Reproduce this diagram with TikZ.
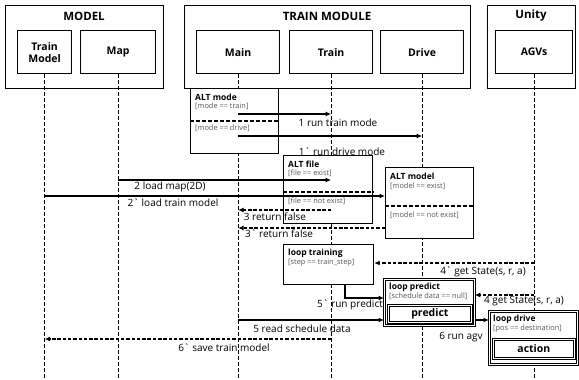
\documentclass[tikz,border=0pt]{standalone}
\usepackage{fontspec}
\newfontfamily\diafont{Open Sans}
\usetikzlibrary{arrows.meta,calc}
\begin{document}
\begin{tikzpicture}[x=1pt,y=-1pt,font=\diafont,
  box/.style={draw, line width=1.2pt, fill=white, inner sep=0pt},
  grp/.style={box, anchor=north west},
  part/.style={box, anchor=north west, align=center, font=\diafont\bfseries\fontsize{10.5}{12}\selectfont},
  gtitle/.style={font=\diafont\bfseries\fontsize{11.5}{13}\selectfont, inner sep=0pt},
  frag/.style={box, anchor=north west},
  dframe/.style={draw, line width=0.8pt, double, double distance=0.7pt, fill=white, inner sep=0pt, anchor=north west},
  ftitle/.style={font=\diafont\bfseries\fontsize{8.5}{9.5}\selectfont, anchor=west, inner sep=0pt},
  guard/.style={font=\diafont\fontsize{7.4}{8.5}\selectfont, text=black!65, anchor=west, inner sep=0pt},
  inbox/.style={dframe, font=\diafont\bfseries\fontsize{10.5}{11}\selectfont},
  lbl/.style={font=\diafont\fontsize{10}{11}\selectfont, inner sep=0pt},
  lifeline/.style={line width=1.1pt, dash pattern=on 4pt off 2pt},
  divider/.style={line width=1.3pt, dash pattern=on 4pt off 2pt},
  msg/.style={line width=1.1pt, -{Latex[length=5.5pt,width=5pt]}},
  ret/.style={msg, dash pattern=on 3.5pt off 1.8pt}
]
\useasboundingbox (0,0) rectangle (579,380);
\coordinate (bot) at (0,380);
% groups
\node[grp, minimum width=158pt, minimum height=83pt] (gModel) at (5,5) {};
\node[grp, minimum width=286pt, minimum height=83pt] (gTrain) at (184,5) {};
\node[grp, minimum width=88pt, minimum height=83pt] (gUnity) at (487,5) {};
\node[gtitle] (tModel) at (84,16) {MODEL};
\node[gtitle] (tTrain) at (327,16) {TRAIN MODULE};
\node[gtitle] (tUnity) at (531,16) {Unity};
% participants
\node[part, minimum width=54pt, minimum height=43pt] (tm) at (17,30) {Train\\Model};
\node[part, minimum width=75pt, minimum height=43pt] (map) at (80,30) {Map};
\node[part, minimum width=83pt, minimum height=43pt] (main) at (196,30) {Main};
\node[part, minimum width=83pt, minimum height=43pt] (train) at (289,30) {Train};
\node[part, minimum width=83pt, minimum height=43pt] (drive) at (380,30) {Drive};
\node[part, minimum width=77pt, minimum height=43pt] (agv) at (495,30) {AGVs};
% lifelines
\foreach \p in {tm,map,main,train,drive,agv}
  \draw[lifeline] (\p.south) -- (\p.south |- bot);
% fragments
\node[frag, minimum width=88pt, minimum height=65pt] (altmode) at (190,88) {};
\draw[divider] ($(altmode.north west)+(0,33)$) -- ($(altmode.north east)+(0,33)$);
\node[ftitle] (altmodeT) at (195,97) {ALT mode};
\node[guard] (altmodeG1) at (195,106) {[mode == train]};
\node[guard] (altmodeG2) at (195,128) {[mode == drive]};

\node[frag, minimum width=89pt, minimum height=68pt] (altfile) at (283,155) {};
\draw[divider] ($(altfile.north west)+(0,37)$) -- ($(altfile.north east)+(0,37)$);
\node[ftitle] (altfileT) at (288,164) {ALT file};
\node[guard] (altfileG1) at (288,173) {[file == exist]};
\node[guard] (altfileG2) at (288,201) {[file == not exist]};

\node[frag, minimum width=88pt, minimum height=71pt] (altmodel) at (385,167) {};
\draw[divider] ($(altmodel.north west)+(0,39)$) -- ($(altmodel.north east)+(0,39)$);
\node[ftitle] (altmodelT) at (390,176) {ALT model};
\node[guard] (altmodelG1) at (390,186) {[model == exist]};
\node[guard] (altmodelG2) at (390,215) {[model == not exist]};

\node[frag, minimum width=90pt, minimum height=40pt] (ltrain) at (283,244) {};
\node[ftitle] (ltrainT) at (288,253) {loop training};
\node[guard] (ltrainG) at (288,263) {[step == train\_step]};

\node[dframe, minimum width=90pt, minimum height=46pt] (lpred) at (384,279) {};
\node[ftitle] (lpredT) at (389,287) {loop predict};
\node[guard] (lpredG) at (389,296) {[schedule data == null]};
\node[inbox, minimum width=83pt, minimum height=17pt] (predict) at (388,305) {predict};

\node[dframe, minimum width=88pt, minimum height=53pt] (ldrive) at (489,311) {};
\node[ftitle] (ldriveT) at (493,319) {loop drive};
\node[guard] (ldriveG) at (493,329) {[pos == destination]};
\node[inbox, minimum width=81pt, minimum height=19pt] (action) at (493,339) {action};

% messages
\draw[msg] (main |- 0,114) -- (train |- 0,114);
\node[lbl] (m1) at (338,123) {1 run train mode};
\draw[msg] (main |- 0,136) -- (drive |- 0,136);
\node[lbl] (m1b) at (342,152) {1` run drive mode};
\draw[msg] (map |- 0,180) -- (train |- 0,180);
\node[lbl] (m2) at (170,187) {2 load map(2D)};
\draw[msg] (tm |- 0,196) -- (altmodel.west |- 0,196);
\node[lbl] (m2b) at (173,203) {2` load train model};
\draw[ret] (train |- 0,210) -- (main |- 0,210);
\node[lbl] (m3) at (275,217) {3 return false};
\draw[ret] (altmodel.west |- 0,228) -- (main |- 0,228);
\node[lbl] (m3b) at (279,234) {3` return false};
\draw[ret] (agv |- 0,263) -- (ltrain.east |- 0,263);
\node[lbl] (m4b) at (483,272) {4` get State(s, r, a)};
\draw[msg] ($(ltrain.south west)+(62,0)$) |- (lpred.west |- 0,298);
\node[lbl] (m5b) at (350,305) {5` run predict};
\draw[ret] (agv |- 0,295) -- (lpred.east |- 0,295);
\node[lbl] (m4) at (524,301) {4 get State(s, r, a)};
\draw[msg] (main |- 0,320) -- (lpred.west |- 0,320);
\node[lbl] (m5) at (302,329) {5 read schedule data};
\draw[msg] (lpred.east |- 0,320) -- (ldrive.west |- 0,320);
\node[lbl] (m6) at (461,337) {6 run agv};
\draw[ret] (train |- 0,339) -- (tm |- 0,339);
\node[lbl] (m6b) at (224,348) {6` save train model};
\end{tikzpicture}
\end{document}
